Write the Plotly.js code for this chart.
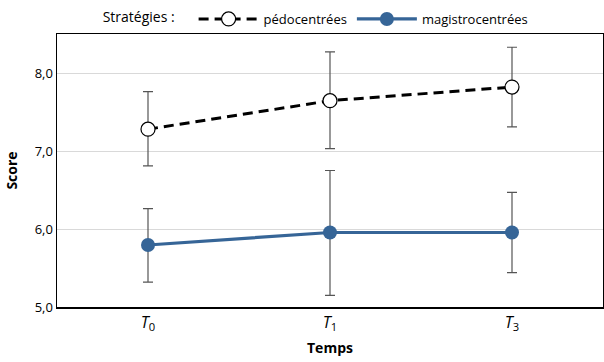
<!DOCTYPE html>
<html><head><meta charset="utf-8">
<script src="https://cdn.plot.ly/plotly-3.0.1.min.js"></script>
<style>html,body{margin:0;padding:0;background:#fff}#c{width:604px;height:362px}</style>
</head><body><div id="c"></div>
<script>
const categories = ["<i>T</i><sub>0</sub>", "<i>T</i><sub>1</sub>", "<i>T</i><sub>3</sub>"];
const pedoMean = [7.28, 7.645, 7.82];
const pedoUpper = [7.76, 8.27, 8.33];
const pedoLower = [6.81, 7.03, 7.31];
const magiMean = [5.795, 5.955, 5.955];
const magiUpper = [6.26, 6.75, 6.47];
const magiLower = [5.32, 5.15, 5.44];

const plus = (u, m) => u.map((v, i) => v - m[i]);
const minus = (l, m) => l.map((v, i) => m[i] - v);

const errStyle = {color: '#555555', thickness: 1.2, width: 5};

const traces = [
  {
    x: categories, y: pedoMean, name: 'pédocentrées', type: 'scatter', mode: 'lines+markers',
    line: {color: '#000000', width: 3, dash: '10px,6px'},
    marker: {size: 14, color: '#ffffff', line: {color: '#000000', width: 1.2}},
    error_y: Object.assign({type: 'data', symmetric: false, array: plus(pedoUpper, pedoMean), arrayminus: minus(pedoLower, pedoMean)}, errStyle)
  },
  {
    x: categories, y: magiMean, name: 'magistrocentrées', type: 'scatter', mode: 'lines+markers',
    line: {color: '#366597', width: 3.2},
    marker: {size: 14, color: '#366597'},
    error_y: Object.assign({type: 'data', symmetric: false, array: plus(magiUpper, magiMean), arrayminus: minus(magiLower, magiMean)}, errStyle)
  }
];

const layout = {
  width: 604, height: 362,
  margin: {l: 57, r: 1, t: 34, b: 55},
  paper_bgcolor: '#ffffff', plot_bgcolor: '#ffffff',
  font: {family: '"Open Sans", "Noto Sans", sans-serif', size: 13, color: '#000'},
  showlegend: true,
  legend: {
    orientation: 'h', x: 0.08, xanchor: 'left', y: 1.0, yanchor: 'bottom',
    title: {text: 'Stratégies :   ', font: {size: 14}},
    font: {size: 13}, itemwidth: 60, traceorder: 'normal',
    bgcolor: 'rgba(0,0,0,0)'
  },
  xaxis: {
    type: 'category', range: [-0.5, 2.5],
    showline: true, linecolor: '#000', linewidth: 1.5, mirror: true,
    showgrid: false, ticks: '', ticklen: 0,
    tickfont: {size: 16, family: '"Open Sans", sans-serif'},
    title: {text: '<b>Temps</b>', font: {size: 14}, standoff: 10}
  },
  yaxis: {
    range: [5, 8.5], tickvals: [5, 6, 7, 8], ticktext: ['5,0', '6,0', '7,0', '8,0'],
    showline: true, linecolor: '#000', linewidth: 1.5, mirror: true,
    showgrid: true, gridcolor: '#d9d9d9', gridwidth: 1,
    zeroline: false, ticks: '', tickfont: {size: 13},
    title: {text: '<b>Score</b>', font: {size: 14}, standoff: 14}
  }
};

Plotly.newPlot('c', traces, layout, {staticPlot: true, displayModeBar: false});
</script></body></html>
